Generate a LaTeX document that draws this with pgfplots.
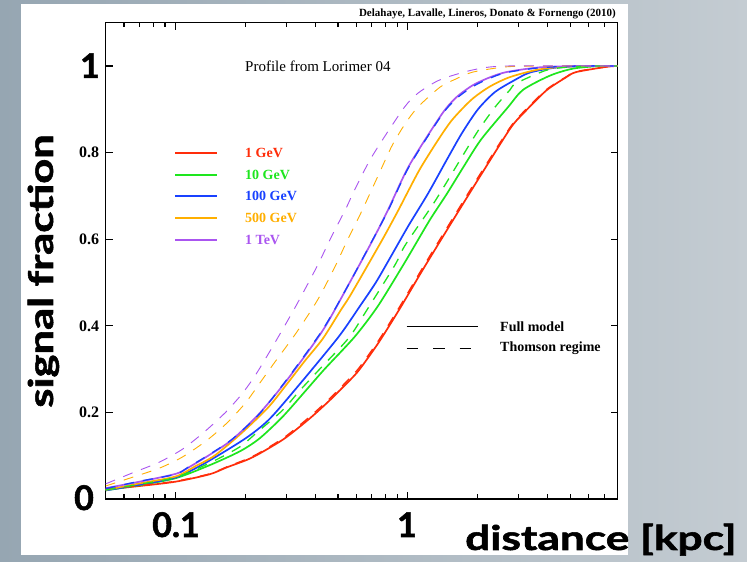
\documentclass[border=0pt]{standalone}
\usepackage{fontspec}
\setmainfont{Liberation Serif}
\newfontfamily\slidefam{Lato}[BoldFeatures={FakeBold=1.5}]
\usepackage{pgfplots}
\pgfplotsset{compat=1.18}
\definecolor{cR}{RGB}{255,45,10}
\definecolor{cG}{RGB}{30,230,30}
\definecolor{cB}{RGB}{25,65,255}
\definecolor{cO}{RGB}{255,175,0}
\definecolor{cP}{RGB}{170,85,240}
\definecolor{bgL}{RGB}{150,166,178}
\definecolor{bgR}{RGB}{196,204,210}
\newcommand{\slidefont}{\slidefam\bfseries\fontsize{34}{36}\selectfont}
\begin{document}
\begin{tikzpicture}[x=1pt,y=1pt]
\shade[left color=bgL,right color=bgR] (0,0) rectangle (747,562);
\fill[white] (21,7) rectangle (628,558);
\begin{axis}[at={(105.7pt,63pt)}, anchor=south west,
  width=511.9pt, height=476.3pt, scale only axis,
  xmode=log, xmin=0.05, xmax=8, ymin=0, ymax=1.1,
  axis line style={line width=1.6pt},
  xtick={0.1,1}, xticklabels={},
  minor xtick={0.06,0.07,0.08,0.09,0.2,0.3,0.4,0.5,0.6,0.7,0.8,0.9,2,3,4,5,6,7},
  ytick={0,0.2,0.4,0.6,0.8,1}, yticklabels={,0.2,0.4,0.6,0.8,},
  yticklabel style={font=\bfseries\fontsize{16}{18}\selectfont, xshift=-3pt},
  major tick length=7pt, minor tick length=4.5pt,
  tick style={line width=1.2pt, black},
  every axis plot/.append style={smooth, tension=0.45},
  clip=true]
\addplot[cR, line width=1.7pt] coordinates {(0.05,0.022)(0.07,0.030)(0.1,0.040)(0.14,0.057)(0.166,0.073)(0.202,0.09)(0.23,0.105)(0.295,0.14)(0.378,0.186)(0.461,0.228)(0.562,0.274)(0.621,0.30)(0.75,0.362)(0.924,0.44)(1.161,0.53)(1.548,0.64)(2.045,0.745)(2.754,0.855)(3.134,0.89)(3.938,0.943)(4.805,0.974)(5.306,0.986)(7.148,0.998)(8,1.0)};
\addplot[cG, line width=1.7pt] coordinates {(0.05,0.02)(0.07,0.032)(0.1,0.048)(0.14,0.078)(0.189,0.11)(0.23,0.14)(0.289,0.19)(0.363,0.25)(0.438,0.30)(0.591,0.375)(0.742,0.445)(0.942,0.535)(1.051,0.578)(1.245,0.645)(1.473,0.705)(1.727,0.765)(2.065,0.83)(2.70,0.905)(3.134,0.945)(4.1,0.978)(5.15,0.994)(6.73,1.0)(8,1.0)};
\addplot[cB, line width=1.7pt] coordinates {(0.05,0.02)(0.07,0.033)(0.1,0.05)(0.133,0.082)(0.2,0.14)(0.254,0.185)(0.342,0.265)(0.504,0.375)(0.621,0.445)(0.728,0.50)(0.845,0.56)(1.003,0.63)(1.22,0.705)(1.459,0.78)(1.71,0.845)(2.004,0.90)(2.373,0.94)(2.895,0.968)(3.36,0.985)(4.31,0.996)(5.8,1.0)(8,1.0)};
\addplot[cO, line width=1.7pt] coordinates {(0.05,0.021)(0.07,0.036)(0.1,0.052)(0.121,0.075)(0.147,0.10)(0.1885,0.148)(0.249,0.21)(0.301,0.265)(0.359,0.318)(0.43,0.37)(0.514,0.436)(0.562,0.468)(0.672,0.54)(0.788,0.605)(0.906,0.665)(0.99,0.705)(1.127,0.762)(1.334,0.825)(1.548,0.875)(1.877,0.922)(2.245,0.952)(2.738,0.974)(3.58,0.991)(4.59,0.998)(6.18,1.0)(8,1.0)};
\addplot[cP, line width=1.7pt] coordinates {(0.05,0.025)(0.07,0.040)(0.1,0.058)(0.113,0.072)(0.142,0.104)(0.176,0.138)(0.23,0.198)(0.305,0.278)(0.431,0.39)(0.562,0.50)(0.706,0.598)(0.822,0.668)(1.013,0.77)(1.397,0.888)(1.62,0.928)(1.91,0.956)(2.26,0.974)(2.66,0.986)(3.71,0.997)(5.5,1.0)(8,1.0)};
% Thomson regime (dashed)
\addplot[cR, line width=1.3pt, dash pattern=on 10pt off 9pt] coordinates {(0.05,0.023)(0.07,0.031)(0.1,0.041)(0.14,0.058)(0.166,0.074)(0.202,0.092)(0.23,0.107)(0.295,0.143)(0.378,0.19)(0.461,0.232)(0.562,0.279)(0.621,0.305)(0.75,0.367)(0.924,0.445)(1.161,0.535)(1.548,0.645)(2.045,0.75)(2.754,0.858)(3.134,0.893)(3.938,0.945)(4.805,0.975)(5.306,0.987)(7.148,0.998)(8,1.0)};
\addplot[cG, line width=1.3pt, dash pattern=on 10pt off 9pt] coordinates {(0.05,0.021)(0.07,0.034)(0.1,0.05)(0.14,0.083)(0.1885,0.12)(0.2254,0.155)(0.2888,0.205)(0.342,0.25)(0.4173,0.30)(0.5566,0.372)(0.6654,0.436)(0.879,0.54)(0.9707,0.585)(1.245,0.67)(1.389,0.71)(1.71,0.79)(2.004,0.85)(2.373,0.905)(2.754,0.945)(2.924,0.96)(3.938,0.99)(5.009,0.998)(6.42,1.0)(8,1.0)};
\addplot[cB, line width=1.3pt, dash pattern=on 10pt off 9pt] coordinates {(0.05,0.024)(0.07,0.041)(0.1,0.057)(0.113,0.073)(0.142,0.105)(0.176,0.139)(0.23,0.197)(0.305,0.28)(0.431,0.392)(0.562,0.50)(0.706,0.599)(0.822,0.666)(1.013,0.768)(1.397,0.886)(1.62,0.925)(1.91,0.953)(2.26,0.972)(2.66,0.985)(3.71,0.996)(5.5,1.0)(8,1.0)};
\addplot[cO, line width=0.9pt, dash pattern=on 10pt off 9pt] coordinates {(0.05,0.03)(0.065,0.05)(0.085,0.071)(0.107,0.097)(0.136,0.135)(0.166,0.175)(0.2,0.222)(0.232,0.27)(0.269,0.318)(0.332,0.385)(0.409,0.46)(0.484,0.535)(0.546,0.595)(0.627,0.66)(0.686,0.705)(0.757,0.755)(0.853,0.815)(0.969,0.865)(1.104,0.905)(1.374,0.951)(1.595,0.969)(1.907,0.986)(2.647,0.998)(3.711,1.0)(8,1.0)};
\addplot[cP, line width=0.9pt, dash pattern=on 10pt off 9pt] coordinates {(0.05,0.035)(0.065,0.06)(0.085,0.085)(0.107,0.115)(0.133,0.155)(0.164,0.20)(0.194,0.244)(0.223,0.29)(0.267,0.36)(0.329,0.445)(0.409,0.54)(0.461,0.598)(0.546,0.675)(0.579,0.705)(0.699,0.79)(0.952,0.90)(1.104,0.937)(1.374,0.968)(1.907,0.991)(2.65,1.0)(8,1.0)};
\end{axis}
% legend: energies
\begin{scope}[line width=1.7pt]
\draw[cR] (175,409) -- (217,409);
\draw[cG] (175,387) -- (217,387);
\draw[cB] (175,366) -- (217,366);
\draw[cO] (175,344) -- (217,344);
\draw[cP] (175,322) -- (217,322);
\end{scope}
\begin{scope}[every node/.style={anchor=west, inner sep=0pt, font=\bfseries\fontsize{14}{16}\selectfont}]
\node[text=cR] at (245,409) {1 GeV};
\node[text=cG] at (245,387) {10 GeV};
\node[text=cB] at (245,366) {100 GeV};
\node[text=cO] at (245,344) {500 GeV};
\node[text=cP] at (245,322) {1 TeV};
\node[text=black] at (500,235.3) {Full model};
\node[text=black] at (500,213.7) {Thomson regime};
\end{scope}
\draw[line width=1.4pt] (406.7,235.3) -- (478.3,235.3);
\draw[line width=1.4pt, dash pattern=on 11.5pt off 15pt] (406.7,213.7) -- (475,213.7);
\node[anchor=west, inner sep=0pt, font=\fontsize{15}{17}\selectfont] at (245,496) {Profile from Lorimer 04};
\node[anchor=base east, inner sep=0pt, font=\bfseries\fontsize{11}{13}\selectfont] at (616,545) {Delahaye, Lavalle, Lineros, Donato \& Fornengo (2010)};
% slide overlay labels
\node[anchor=base, inner sep=0pt, font=\slidefont] at (176,25) {0.1};
\node[anchor=base, inner sep=0pt, font=\slidefont] at (407,25) {1};
\node[anchor=base, inner sep=0pt, font=\slidefont] at (84,52) {0};
\node[anchor=base, inner sep=0pt, font=\slidefont] at (90,484) {1};
\node[anchor=base west, inner sep=0pt, font=\slidefont] at (465,12) {\scalebox{1.3}[1]{distance [kpc]}};
\node[anchor=base, rotate=90, inner sep=0pt, font=\slidefont] at (53,291) {\scalebox{1.28}[1]{signal fraction}};
\pgfresetboundingbox
\useasboundingbox (0,0) rectangle (747,562);
\end{tikzpicture}
\end{document}
